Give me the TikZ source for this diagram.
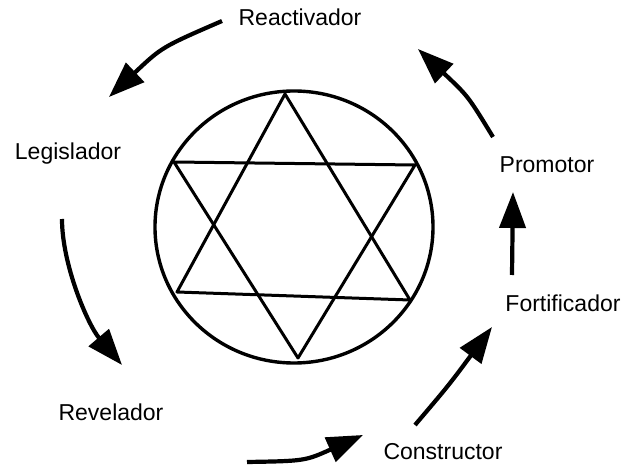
\documentclass[tikz,border=0pt]{standalone}
\usepackage{fontspec}
\setmainfont{Liberation Sans}
\usetikzlibrary{arrows.meta}

\begin{document}
\begin{tikzpicture}[x=1pt,y=-1pt,
    rol/.style={anchor=base,inner sep=0pt,font=\fontsize{23}{27}\selectfont},
    flecha/.style={line width=4.2pt,-{Triangle[length=36pt,width=26pt]}}]
  \useasboundingbox (0,0) rectangle (625,465);
  % rueda central
  \draw[line width=3.4pt] (294,227) ellipse[x radius=139,y radius=136];
  \draw[line width=3pt,line join=round] (285,94) -- (177,292) -- (410,300) -- cycle;
  \draw[line width=3pt,line join=round] (174,162) -- (415,165) -- (298,358) -- cycle;
  % roles
  \node[rol] (reac) at (300,26) {Reactivador};
  \node[rol] (legi) at (68,160) {Legislador};
  \node[rol] (reve) at (111,421) {Revelador};
  \node[rol] (cons) at (443,460) {Constructor};
  \node[rol] (fort) at (563,312) {Fortificador};
  \node[rol] (prom) at (547,173) {Promotor};
  % extremos de las flechas
  \coordinate (a1) at (222,21);  \coordinate (b1) at (109,97);
  \coordinate (a2) at (62,219);  \coordinate (b2) at (122,365);
  \coordinate (a3) at (247,462); \coordinate (b3) at (363,435);
  \coordinate (a4) at (415,425); \coordinate (b4) at (492,327);
  \coordinate (a5) at (512,275); \coordinate (b5) at (513,192);
  \coordinate (a6) at (493,137); \coordinate (b6) at (418,49);
  \draw[flecha] (a1) .. controls (162,47) .. (b1);
  \draw[flecha] (a2) .. controls (62,265) and (88,325) .. (b2);
  \draw[flecha] (a3) .. controls (305,461) .. (b3);
  \draw[flecha] (a4) .. controls (449,385) .. (b4);
  \draw[flecha] (a5) -- (b5);
  \draw[flecha] (a6) .. controls (468,96) .. (b6);
\end{tikzpicture}
\end{document}
